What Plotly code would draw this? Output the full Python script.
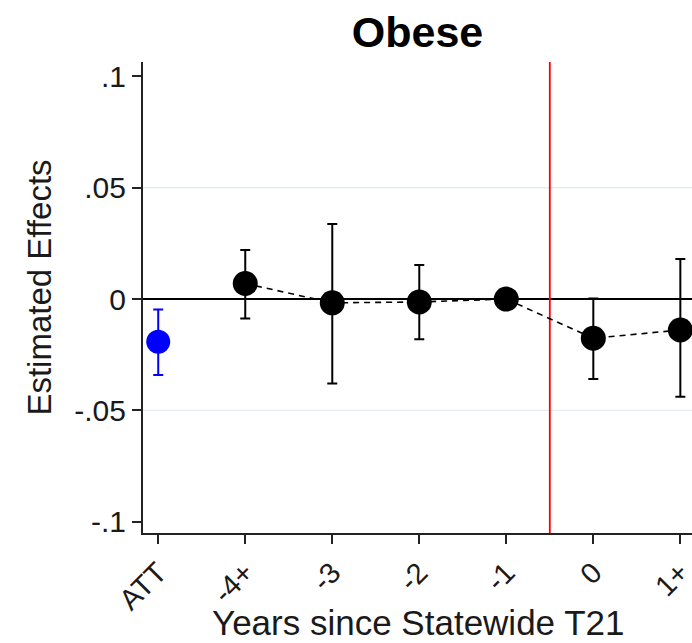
import plotly.graph_objects as go

# Event-study estimates for obesity around statewide T21 adoption
categories = ["ATT", "-4+", "-3", "-2", "-1", "0", "1+"]
att_value = [-0.0192]
att_lower = [-0.0341]
att_upper = [-0.0047]

event_labels = ["-4+", "-3", "-2", "-1", "0", "1+"]
event_values = [0.0070, -0.0017, -0.0013, 0.0, -0.0176, -0.0139]
event_lower = [-0.0087, -0.0379, -0.0181, None, -0.0359, -0.0439]
event_upper = [0.0220, 0.0337, 0.0153, None, 0.0003, 0.0180]

y_ticks = [-0.1, -0.05, 0, 0.05, 0.1]
y_tick_text = ["-.1", "-.05", "0", ".05", ".1"]

FONT = "Liberation Sans, Arial, sans-serif"
TEXT = "#1a1a1a"

pos = {c: i for i, c in enumerate(categories)}


def err_parts(vals, lo, hi):
    plus, minus = [], []
    for v, l, h in zip(vals, lo, hi):
        if l is None or h is None:
            plus.append(0)
            minus.append(0)
        else:
            plus.append(h - v)
            minus.append(v - l)
    return plus, minus


ev_x = [pos[c] for c in event_labels]
ev_plus, ev_minus = err_parts(event_values, event_lower, event_upper)
att_plus, att_minus = err_parts(att_value, att_lower, att_upper)
has_ci = [l is not None for l in event_lower]

fig = go.Figure()

# dashed connector between event-time estimates
fig.add_trace(go.Scatter(
    x=ev_x, y=event_values, mode="lines",
    line=dict(color="black", width=1.6, dash="6px,5px"),
    hoverinfo="skip", showlegend=False,
))

# confidence intervals for event-time estimates
fig.add_trace(go.Scatter(
    x=[x for x, k in zip(ev_x, has_ci) if k],
    y=[v for v, k in zip(event_values, has_ci) if k],
    mode="markers",
    marker=dict(size=1, color="rgba(0,0,0,0)"),
    error_y=dict(type="data", symmetric=False,
                 array=[p for p, k in zip(ev_plus, has_ci) if k],
                 arrayminus=[m for m, k in zip(ev_minus, has_ci) if k],
                 color="black", thickness=2, width=5),
    showlegend=False,
))

# event-time point estimates
fig.add_trace(go.Scatter(
    x=ev_x, y=event_values, mode="markers",
    marker=dict(size=25, color="black"),
    showlegend=False,
))

# average treatment effect
fig.add_trace(go.Scatter(
    x=[pos["ATT"]], y=att_value, mode="markers",
    marker=dict(size=24, color="blue"),
    error_y=dict(type="data", symmetric=False, array=att_plus, arrayminus=att_minus,
                 color="blue", thickness=2, width=5),
    showlegend=False,
))

# faint horizontal grid at the inner ticks
for gy in (0.05, -0.05):
    fig.add_shape(type="line", xref="paper", yref="y", x0=0, x1=1, y0=gy, y1=gy,
                  line=dict(color="#e4eef0", width=1.3), layer="below")

# zero reference line
fig.add_shape(type="line", xref="paper", yref="y", x0=0, x1=1, y0=0, y1=0,
              line=dict(color="black", width=2), layer="below")
# adoption marker between -1 and 0
fig.add_shape(type="line", xref="x", yref="paper", x0=4.5, x1=4.5, y0=0, y1=1,
              line=dict(color="red", width=1.8), layer="below")

fig.update_layout(
    width=692, height=643,
    margin=dict(l=143, r=0, t=62, b=110, autoexpand=False),
    paper_bgcolor="white", plot_bgcolor="white",
    font=dict(family=FONT, color=TEXT),
    title=dict(text="<b>Obese</b>", x=0.5, xref="paper", xanchor="center",
               y=0.951, yanchor="middle",
               font=dict(family=FONT, size=43, color="black")),
    xaxis=dict(
        range=[-0.175, 6.134], automargin=False,
        tickmode="array", tickvals=list(range(len(categories))), ticktext=categories,
        tickangle=-45, tickfont=dict(size=29, family=FONT, color=TEXT),
        ticklabeloverflow="allow",
        ticks="outside", ticklen=9, tickwidth=2, tickcolor="#222",
        showline=True, linecolor="#222", linewidth=2,
        showgrid=False, zeroline=False,
    ),
    yaxis=dict(
        range=[-0.1051, 0.1065], automargin=False,
        tickmode="array", tickvals=y_ticks, ticktext=y_tick_text,
        tickfont=dict(size=30, family=FONT, color=TEXT),
        ticks="outside", ticklen=9, tickwidth=2, tickcolor="#222",
        showline=True, linecolor="#222", linewidth=2,
        showgrid=False, zeroline=False,
    ),
    annotations=[
        dict(text="Years since Statewide T21", xref="paper", yref="paper",
             x=0.5, y=-(622 - 533) / 471, xanchor="center", yanchor="middle",
             showarrow=False, font=dict(size=35, family=FONT, color=TEXT)),
        dict(text="Estimated Effects", xref="paper", yref="paper",
             x=-(143 - 40) / 549, y=0.521, xanchor="center", yanchor="middle",
             textangle=-90, showarrow=False,
             font=dict(size=33, family=FONT, color=TEXT)),
    ],
)

fig.write_html("out.html")
